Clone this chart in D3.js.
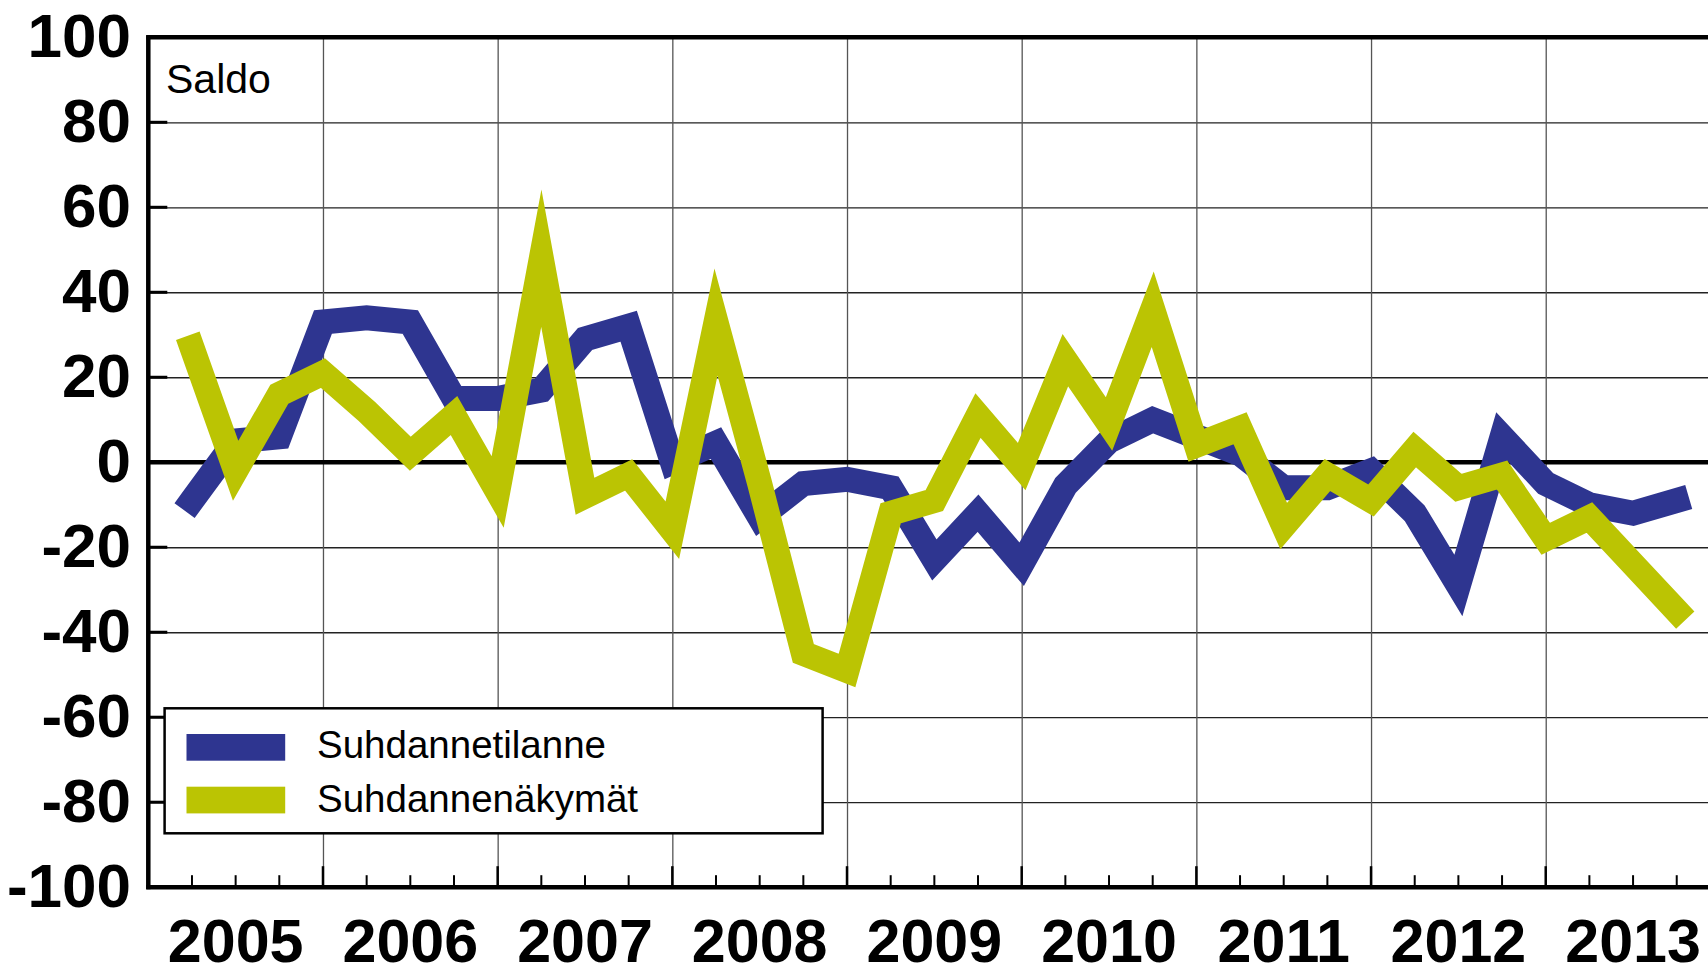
<!DOCTYPE html>
<html lang="fi">
<head>
    <meta charset="UTF-8">
    <title>Suhdannetilanne ja suhdannenäkymät</title>
    <script src="https://cdnjs.cloudflare.com/ajax/libs/d3/7.9.0/d3.min.js"></script>
    <style>
        body {
            margin: 0;
            background: #fff;
            font-family: "Liberation Sans", Arial, sans-serif;
        }
        svg { display: block; }
        .grid line { stroke: #222; stroke-width: 1.3; }
        .grid path { display: none; }
        .vgrid line { stroke: #555; stroke-width: 1.3; }
        .vgrid path { display: none; }
        .y-label { font-size: 62px; font-weight: bold; fill: #000; text-anchor: end; }
        .year-label { font-size: 61px; font-weight: bold; fill: #000; text-anchor: middle; }
        .legend-text { font-size: 38.5px; fill: #000; }
    </style>
</head>
<body>
<div id="chart"></div>
<script>
    // quarterly balance figures, 2005Q1 - 2013Q3
    const quarters = [
        "2005Q1", "2005Q2", "2005Q3", "2005Q4",
        "2006Q1", "2006Q2", "2006Q3", "2006Q4",
        "2007Q1", "2007Q2", "2007Q3", "2007Q4",
        "2008Q1", "2008Q2", "2008Q3", "2008Q4",
        "2009Q1", "2009Q2", "2009Q3", "2009Q4",
        "2010Q1", "2010Q2", "2010Q3", "2010Q4",
        "2011Q1", "2011Q2", "2011Q3", "2011Q4",
        "2012Q1", "2012Q2", "2012Q3", "2012Q4",
        "2013Q1", "2013Q2", "2013Q3"
    ];
    const tilanne = [
        -9, 5, 6, 33, 34, 33, 15, 15, 17, 29, 32, 0,
        4.5, -13, -5, -4, -6, -23, -12, -24, -5.5, 5, 10, 6,
        2, -6, -6, -2, -12, -29, 6, -5, -10, -12, -9
    ];
    const nakymat = [
        27, -2, 16, 21, 12, 2, 11, -7, 48, -8, -3, -16,
        33, -5, -45, -49, -12, -9, 11, -1, 24, 9, 36, 4,
        8, -15, -3, -9, 3, -6, -3, -18, -13, -24, -35
    ];
    const seriesNames = ["Suhdannetilanne", "Suhdannenäkymät"];
    const seriesColors = ["#2e3590", "#bbc403"];
    const years = [2005, 2006, 2007, 2008, 2009, 2010, 2011, 2012, 2013];
    const yTicks = [-100, -80, -60, -40, -20, 0, 20, 40, 60, 80, 100];

    const width = 1708;
    const height = 967;
    const left = 148.3;

    const svg = d3.select("#chart")
        .append("svg")
        .attr("width", width)
        .attr("height", height);

    const x = d3.scaleLinear().domain([2005, 2014]).range([left, 1720.4]);
    const y = d3.scaleLinear().domain([-100, 100]).range([887.2, 37.3]);

    // point sits at the end of its quarter
    const qTime = q => +q.slice(0, 4) + +q.slice(5) / 4;

    // horizontal gridlines
    svg.append("g")
        .attr("class", "grid")
        .attr("transform", `translate(${left},0)`)
        .call(d3.axisLeft(y).tickValues(yTicks.slice(1, -1)).tickSize(-(width - left)).tickFormat(""));

    // vertical gridlines at year boundaries
    svg.append("g")
        .attr("class", "vgrid")
        .attr("transform", `translate(0,${y(-100)})`)
        .call(d3.axisBottom(x).tickValues(years.slice(1)).tickSize(-(y(-100) - y(100))).tickFormat(""));

    // zero line
    svg.append("line")
        .attr("x1", left).attr("x2", width)
        .attr("y1", y(0)).attr("y2", y(0))
        .attr("stroke", "#000").attr("stroke-width", 4.5);

    // series
    const line = d3.line()
        .x((d, i) => x(qTime(quarters[i])))
        .y(d => y(d));

    [tilanne, nakymat].forEach((values, k) => {
        svg.append("path")
            .datum(values)
            .attr("fill", "none")
            .attr("stroke", seriesColors[k])
            .attr("stroke-width", 25)
            .attr("stroke-linejoin", "miter")
            .attr("stroke-miterlimit", 20)
            .attr("stroke-linecap", "square")
            .attr("d", line);
    });

    // frame: top, left, bottom
    svg.append("line")
        .attr("x1", left - 2).attr("x2", width)
        .attr("y1", y(100)).attr("y2", y(100))
        .attr("stroke", "#000").attr("stroke-width", 4.5);
    svg.append("line")
        .attr("x1", left - 2).attr("x2", width)
        .attr("y1", y(-100)).attr("y2", y(-100))
        .attr("stroke", "#000").attr("stroke-width", 4.5);
    svg.append("line")
        .attr("x1", left).attr("x2", left)
        .attr("y1", y(100) - 2).attr("y2", y(-100) + 2)
        .attr("stroke", "#000").attr("stroke-width", 4.5);

    // inward y ticks
    svg.append("g")
        .selectAll("line")
        .data(yTicks.slice(1, -1))
        .join("line")
        .attr("x1", left).attr("x2", left + 19)
        .attr("y1", d => y(d)).attr("y2", d => y(d))
        .attr("stroke", "#000").attr("stroke-width", 3);

    // inward x ticks: years long, quarters short
    const quarterTicks = d3.range(2005.25, 2014, 0.25).filter(t => t % 1 !== 0);
    svg.append("g")
        .selectAll("line")
        .data(quarterTicks)
        .join("line")
        .attr("x1", d => x(d)).attr("x2", d => x(d))
        .attr("y1", y(-100)).attr("y2", y(-100) - 12)
        .attr("stroke", "#000").attr("stroke-width", 2);
    svg.append("g")
        .selectAll("line")
        .data(years.slice(1))
        .join("line")
        .attr("x1", d => x(d)).attr("x2", d => x(d))
        .attr("y1", y(-100)).attr("y2", y(-100) - 21)
        .attr("stroke", "#000").attr("stroke-width", 2.5);

    // y labels
    svg.append("g")
        .selectAll("text")
        .data(yTicks)
        .join("text")
        .attr("class", "y-label")
        .attr("x", 131)
        .attr("y", d => y(d) + 19.5)
        .text(d => d);

    // year labels centred in each year
    svg.append("g")
        .selectAll("text")
        .data(years)
        .join("text")
        .attr("class", "year-label")
        .attr("x", d => x(d + 0.5))
        .attr("y", 962)
        .text(d => d);

    // unit label
    svg.append("text")
        .attr("x", 166)
        .attr("y", 93)
        .attr("font-size", "41px")
        .text("Saldo");

    // legend
    const legend = svg.append("g");
    legend.append("rect")
        .attr("x", 164.6).attr("y", 708.3)
        .attr("width", 658).attr("height", 125)
        .attr("fill", "#fff").attr("stroke", "#000").attr("stroke-width", 2.5);
    seriesNames.forEach((name, k) => {
        legend.append("rect")
            .attr("x", 186.5).attr("y", 734 + k * 52.7)
            .attr("width", 98.7).attr("height", 26.7)
            .attr("fill", seriesColors[k]);
        legend.append("text")
            .attr("class", "legend-text")
            .attr("x", 317)
            .attr("y", 758.3 + k * 53.4)
            .text(name);
    });
</script>
</body>
</html>
